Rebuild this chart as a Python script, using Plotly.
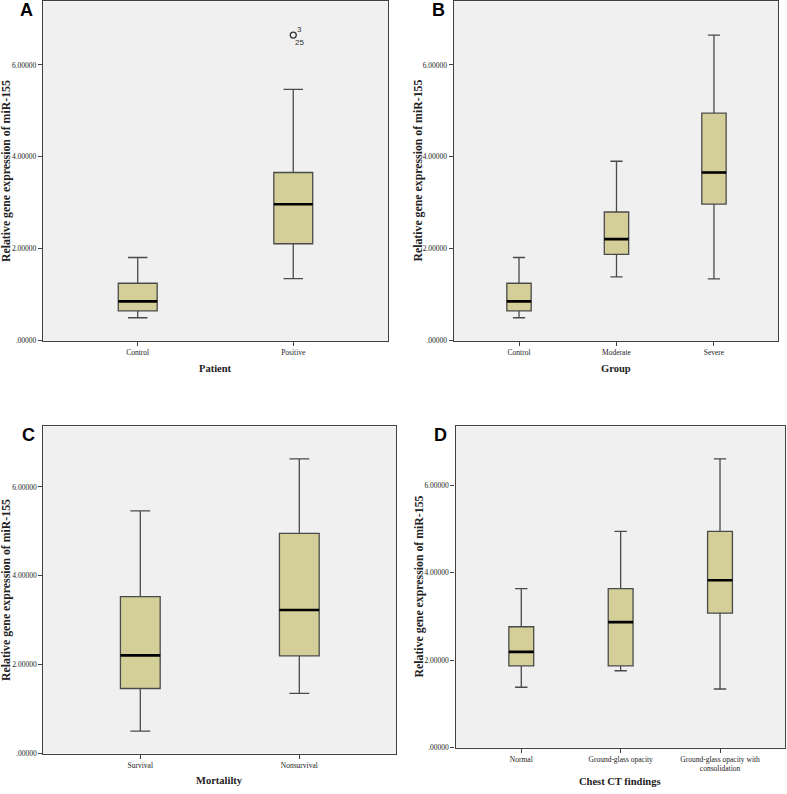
import plotly.graph_objects as go

# ---------------- data ----------------
# Panel A: Patient
a_cats = ["Control", "Positive"]
a_low = [0.50, 1.35]
a_q1 = [0.65, 2.11]
a_med = [0.855, 2.97]
a_q3 = [1.25, 3.66]
a_high = [1.81, 5.47]
a_outlier_y = [6.65]
a_outlier_cat = [1]
a_outlier_ids = ["3", "25"]

# Panel B: Group
b_cats = ["Control", "Moderate", "Severe"]
b_low = [0.50, 1.387, 1.344]
b_q1 = [0.65, 1.877, 2.97]
b_med = [0.855, 2.21, 3.66]
b_q3 = [1.25, 2.80, 4.95]
b_high = [1.81, 3.905, 6.65]

# Panel C: Mortality
c_cats = ["Survival", "Nonsurvival"]
c_low = [0.504, 1.353]
c_q1 = [1.464, 2.20]
c_med = [2.21, 3.23]
c_q3 = [3.53, 4.955]
c_high = [5.46, 6.63]

# Panel D: Chest CT findings
d_cats = ["Normal", "Ground-glass opacity", "Ground-glass opacity with<br>consolidation"]
d_low = [1.38, 1.757, 1.34]
d_q1 = [1.87, 1.87, 3.075]
d_med = [2.19, 2.87, 3.83]
d_q3 = [2.765, 3.636, 4.95]
d_high = [3.636, 4.95, 6.61]

y_tickvals = [0, 2, 4, 6]
y_ticktext = [".00000", "2.00000", "4.00000", "6.00000"]

# ---------------- style ----------------
W, H = 787, 794
BOX_FILL = "#d4cf98"
BOX_LINE = "#4a4a4a"
PLOT_BG = "#f0f0f0"
FRAME = "#404040"
SERIF = "Liberation Serif, Times New Roman, serif"
SANS = "Liberation Sans, Arial, sans-serif"
BW = 0.25

fig = go.Figure()

panels = [
    dict(n="", cats=a_cats, low=a_low, q1=a_q1, med=a_med, q3=a_q3, high=a_high,
         px_x=(43.0, 388.3), px_y=(0.5, 342.3), xr=(-0.609, 1.611), ymax=7.38,
         xtitle="Patient", letter="A"),
    dict(n="2", cats=b_cats, low=b_low, q1=b_q1, med=b_med, q3=b_q3, high=b_high,
         px_x=(453.7, 778.3), px_y=(0.5, 342.3), xr=(-0.67, 2.66), ymax=7.38,
         xtitle="Group", letter="B"),
    dict(n="3", cats=c_cats, low=c_low, q1=c_q1, med=c_med, q3=c_q3, high=c_high,
         px_x=(43.3, 396.0), px_y=(428.7, 758.3), xr=(-0.61, 1.608), ymax=7.36,
         xtitle="Mortalilty", letter="C"),
    dict(n="4", cats=d_cats, low=d_low, q1=d_q1, med=d_med, q3=d_q3, high=d_high,
         px_x=(455.5, 785.3), px_y=(428.7, 752.2), xr=(-0.662, 2.657), ymax=7.35,
         xtitle="Chest CT findings", letter="D"),
]

annotations = []
for p in panels:
    n = p["n"]
    xa = "x" + n
    ya = "y" + n
    xpos = list(range(len(p["cats"])))
    fig.add_trace(go.Box(
        x=xpos, q1=p["q1"], median=p["med"], q3=p["q3"],
        lowerfence=p["low"], upperfence=p["high"],
        width=BW, whiskerwidth=0.5,
        fillcolor=BOX_FILL, line=dict(color=BOX_LINE, width=1.3),
        boxpoints=False, showlegend=False, xaxis=xa, yaxis=ya,
    ))
    for i, m in zip(xpos, p["med"]):
        fig.add_trace(go.Scatter(
            x=[i - BW / 2, i + BW / 2], y=[m, m], mode="lines",
            line=dict(color="black", width=2.6), showlegend=False,
            hoverinfo="skip", xaxis=xa, yaxis=ya,
        ))
    x0, x1 = p["px_x"]
    yt, yb = p["px_y"]
    dom_x = [x0 / W, x1 / W]
    dom_y = [1 - yb / H, 1 - yt / H]
    axkey = "xaxis" + n
    aykey = "yaxis" + n
    fig.layout[axkey] = dict(
        domain=dom_x, range=list(p["xr"]), tickvals=xpos, ticktext=p["cats"],
        anchor=ya, showline=True, mirror=True, linecolor=FRAME, linewidth=1.3,
        ticks="outside", ticklen=4, tickcolor=FRAME, showgrid=False, zeroline=False,
        tickfont=dict(family=SERIF, size=7.5, color="#222"),
    )
    fig.layout[aykey] = dict(
        domain=dom_y, range=[0, p["ymax"]], tickvals=y_tickvals, ticktext=y_ticktext,
        anchor=xa, showline=True, mirror=True, linecolor=FRAME, linewidth=1.3,
        ticks="outside", ticklen=4, tickcolor=FRAME, showgrid=False, zeroline=False,
        tickfont=dict(family=SERIF, size=7.5, color="#222"),
    )
    # x title
    xt_y = {"A": 370.7, "B": 370.7, "C": 785.5, "D": 786.5}[p["letter"]]
    annotations.append(dict(
        text="<b>" + p["xtitle"] + "</b>", x=(x0 + x1) / 2 / W, y=1 - xt_y / H,
        xref="paper", yref="paper", showarrow=False, xanchor="center", yanchor="middle",
        font=dict(family=SERIF, size=10.5, color="#222"),
    ))
    # y title
    yt_x = {"A": 6.0, "B": 418.5, "C": 6.0, "D": 418.5}[p["letter"]]
    annotations.append(dict(
        text="<b>Relative gene expression of miR-155</b>", x=yt_x / W, y=1 - (yt + yb) / 2 / H,
        xref="paper", yref="paper", showarrow=False, xanchor="center", yanchor="middle",
        textangle=-90, font=dict(family=SERIF, size=11.8, color="#222"),
    ))
    # panel letter
    lx, ly = {"A": (26, 9), "B": (438, 9), "C": (28, 437.7), "D": (440, 437.7)}[p["letter"]]
    annotations.append(dict(
        text="<b>" + p["letter"] + "</b>", x=lx / W, y=1 - ly / H,
        xref="paper", yref="paper", showarrow=False, xanchor="center", yanchor="middle",
        font=dict(family=SANS, size=18, color="black"),
    ))

# outlier in panel A
fig.add_trace(go.Scatter(
    x=a_outlier_cat, y=a_outlier_y, mode="markers",
    marker=dict(symbol="circle-open", size=6, color="#333", line=dict(width=1.3)),
    showlegend=False, hoverinfo="skip", xaxis="x", yaxis="y",
))
annotations.append(dict(text=a_outlier_ids[0], x=a_outlier_cat[0], y=a_outlier_y[0],
                        xref="x", yref="y", showarrow=False, xshift=6, yshift=6,
                        font=dict(family=SANS, size=8, color="#333")))
annotations.append(dict(text=a_outlier_ids[1], x=a_outlier_cat[0], y=a_outlier_y[0],
                        xref="x", yref="y", showarrow=False, xshift=6, yshift=-7,
                        font=dict(family=SANS, size=8, color="#333")))

fig.update_layout(
    width=W, height=H, margin=dict(l=0, r=0, t=0, b=0),
    paper_bgcolor="white", plot_bgcolor=PLOT_BG,
    annotations=annotations, showlegend=False,
)

fig.write_html(
    "out.html",
    config={"displayModeBar": False},
    post_script="document.body.style.margin='0';document.body.style.overflow='hidden';",
)
